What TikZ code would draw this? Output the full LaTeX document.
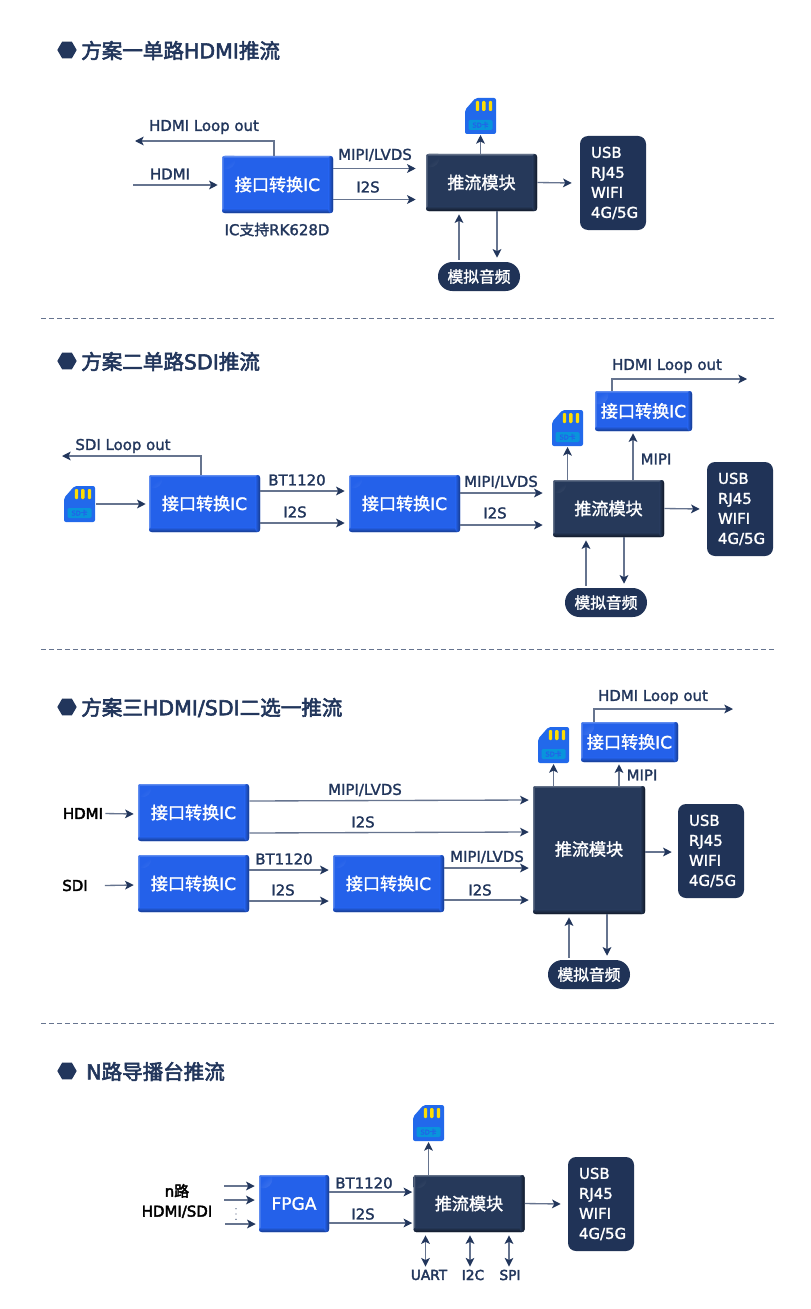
\documentclass[tikz,border=0pt]{standalone}
\usepackage{fontspec}
\setmainfont{DejaVu Sans}[FakeBold=1.6,BoldFont=DejaVu Sans,BoldFeatures={FakeBold=2.8}]
\newfontfamily\cjk{Noto Sans CJK SC}[FakeBold=1.6,BoldFont=Noto Sans CJK SC,BoldFeatures={FakeBold=2.8}]
\usetikzlibrary{calc,arrows.meta,shapes.geometric}

\definecolor{navy}{HTML}{22365C}
\definecolor{linkgrey}{HTML}{66748F}
\definecolor{icblue}{HTML}{2461EA}
\definecolor{modblue}{HTML}{26395A}

\newcommand{\zh}[1]{{\cjk #1}}

\tikzset{
	bevel/.style n args={3}{fill=#1,rounded corners=2pt,inner sep=0pt,text=white,
		path picture={
			\shade[inner color=#2,outer color=#1] ([shift={(3pt,-3pt)}]path picture bounding box.north west) circle (7pt);
			\shade[top color=#2,bottom color=#1,opacity=0.7] (path picture bounding box.north west) rectangle ([yshift=-1.5pt]path picture bounding box.north east);
			\shade[left color=#2,right color=#1,opacity=0.7] (path picture bounding box.north west) rectangle ([xshift=1.5pt]path picture bounding box.south west);
			\shade[top color=#1,bottom color=#3] ([yshift=3.5pt]path picture bounding box.south west) rectangle (path picture bounding box.south east);
			\shade[left color=#1,right color=#3] ([xshift=-3.5pt]path picture bounding box.north east) rectangle (path picture bounding box.south east);
		}},
	icbox/.style={bevel={icblue}{icblue!60!white}{icblue!60!black},minimum width=83.25pt,minimum height=42.75pt,font=\fontsize{12.8}{15}\selectfont},
	smallic/.style={icbox,minimum width=72.75pt,minimum height=30pt},
	modbox/.style={bevel={modblue}{modblue!60!white}{modblue!45!black},minimum width=83.25pt,minimum height=42.75pt,font=\fontsize{12.8}{15}\selectfont},
	outbox/.style={fill=navy!95!black,rounded corners=6pt,text=white,minimum width=49.5pt,minimum height=70.5pt,inner sep=0pt,text width=33pt,align=left,font=\fontsize{11.2}{15}\selectfont},
	pillbox/.style={fill=navy!95!black,rounded corners=10.8pt,text=white,minimum width=61.5pt,minimum height=21.75pt,inner sep=0pt,font=\fontsize{11.8}{14}\selectfont},
	titletxt/.style={anchor=west,inner sep=0pt,text=navy,font=\fontsize{15.4}{18}\selectfont\bfseries},
	titlemark/.style={regular polygon,regular polygon sides=6,fill=navy,minimum size=14.5pt,inner sep=0pt},
	lbl/.style={inner sep=0pt,text=navy,font=\fontsize{11.2}{13}\selectfont},
	blacklbl/.style={inner sep=0pt,text=black,align=center,font=\fontsize{11.2}{15}\selectfont\bfseries},
	buslbl/.style={inner sep=0pt,text=navy,font=\fontsize{10.3}{12}\selectfont\bfseries},
	link/.style={draw=linkgrey,line width=1pt,-{Stealth[length=6.5pt,width=6.5pt,inset=1.6pt,color=navy]}},
	linkboth/.style={link,{Stealth[length=6.5pt,width=6.5pt,inset=1.6pt,color=navy]}-{Stealth[length=6.5pt,width=6.5pt,inset=1.6pt,color=navy]}},
	divider/.style={draw=linkgrey,line width=0.6pt,dash pattern=on 3.4pt off 2.6pt},
	sdcard/.pic={
		\fill[icblue!95!cyan,rounded corners=1.5pt] (-15.5,-6) -- (-5,-18) -- (15.5,-18) -- (15.5,18) -- (-15.5,18) -- cycle;
		\foreach \barx in {-3,3.3,10}
			\fill[yellow!80!orange,rounded corners=0.8pt] (\barx-1.7,-15) rectangle (\barx+1.7,-5);
		\fill[cyan!80!blue,rounded corners=1pt] (-12,4) rectangle (12,14);
		\node[inner sep=0pt,text=icblue,font=\fontsize{5}{6}\selectfont] (-tag) at (0,9) {SD\zh{卡}};
		\coordinate (-s) at (0,19);
		\coordinate (-e) at (16.5,0);
		\coordinate (-w) at (-16.5,0);
	},
}

\begin{document}
\begin{tikzpicture}[x=0.75pt,y=-0.75pt]
	\useasboundingbox (0,0) rectangle (810,1309);
	\fill[white] (0,0) rectangle (810,1309);

	% Dividers
	\foreach \divy [count=\n] in {318,649,1023} {
		\coordinate (dl\n) at (41,\divy);
		\coordinate (dr\n) at (776,\divy);
		\draw[divider] (dl\n) -- (dr\n);
	}

	% Titles
	\node[titlemark] (mark1) at (67,50) {};
	\node[titletxt] (title1) at (81,50.5) {\zh{方案一单路}HDMI\zh{推流}};
	\node[titlemark] (mark2) at (67,361) {};
	\node[titletxt] (title2) at (81,361.5) {\zh{方案二单路}SDI\zh{推流}};
	\node[titlemark] (mark3) at (67,707) {};
	\node[titletxt] (title3) at (81,707.5) {\zh{方案三}HDMI/SDI\zh{二选一推流}};
	\node[titlemark] (mark4) at (67,1071) {};
	\node[titletxt] (title4) at (86,1071.5) {N\zh{路导播台推流}};

	% Scheme one
	\node[icbox] (ic1) at (277.5,184.5) {\zh{接口转换}IC};
	\node[modbox] (mod1) at (481.5,182.5) {\zh{推流模块}};
	\node[outbox] (out1) at (613,183) {USB\\RJ45\\WIFI\\4G/5G};
	\node[pillbox] (pill1) at (479,276.5) {\zh{模拟音频}};
	\pic (sd1) at (480.5,116) {sdcard};
	\coordinate (in1) at (133,185);
	\coordinate (loop1) at (135,141);
	\node[lbl] (hdmi1) at (170,174) {HDMI};
	\node[lbl] (loopl1) at (204,127) {HDMI Loop out};
	\node[lbl] (mipi1) at (375,155) {MIPI/LVDS};
	\node[lbl] (i2s1) at (368,187) {I2S};
	\node[lbl] (note1) at (277,229.5) {IC\zh{支持}RK628D};
	\draw[link] (in1) -- ($(ic1.west)+(-4,0.5)$);
	\draw[link] ($(ic1.north)+(-3.5,0)$) |- (loop1);
	\draw[link] ($(ic1.east)+(0,-16)$) -- ($(mod1.west)+(-10,-14)$);
	\draw[link] ($(ic1.east)+(0,15)$) -- ($(mod1.west)+(-10,17)$);
	\draw[link] (mod1.north -| sd1-s) -- (sd1-s);
	\draw[link] (mod1.east) -- ($(out1.west)+(-8,0)$);
	\draw[link] ($(pill1.north)+(-20,-2)$) -- ($(mod1.south)+(-22.5,3)$);
	\draw[link] ($(mod1.south)+(15.5,0)$) -- ($(pill1.north)+(18,-4)$);

	% Scheme two
	\node[icbox] (ic2a) at (204.5,503.5) {\zh{接口转换}IC};
	\node[icbox] (ic2b) at (404.5,503.5) {\zh{接口转换}IC};
	\node[modbox] (mod2) at (608.5,508.5) {\zh{推流模块}};
	\node[smallic] (ic2c) at (643.5,411) {\zh{接口转换}IC};
	\node[outbox] (out2) at (740,509) {USB\\RJ45\\WIFI\\4G/5G};
	\node[pillbox] (pill2) at (606,602.5) {\zh{模拟音频}};
	\pic (sd2a) at (79.5,504) {sdcard};
	\pic (sd2b) at (567.5,428) {sdcard};
	\coordinate (loop2a) at (62,456);
	\coordinate (loop2b) at (747,379);
	\node[lbl] (loopl2a) at (123,446) {SDI Loop out};
	\node[lbl] (loopl2b) at (667,366) {HDMI Loop out};
	\node[lbl] (bt2) at (297,480) {BT1120};
	\node[lbl] (i2s2a) at (295,512) {I2S};
	\node[lbl] (mipi2) at (501,482) {MIPI/LVDS};
	\node[lbl] (i2s2b) at (495,513) {I2S};
	\node[lbl] (mipi2c) at (656,459) {MIPI};
	\draw[link] (sd2a-e) -- ($(ic2a.west)+(-3,0.5)$);
	\draw[link] ($(ic2a.north)+(-3.5,0)$) |- (loop2a);
	\draw[link] ($(ic2a.east)+(0,-12.5)$) -- ($(ic2b.west)+(-4,-12.5)$);
	\draw[link] ($(ic2a.east)+(0,19.5)$) -- ($(ic2b.west)+(-4,19.5)$);
	\draw[link] ($(ic2b.east)+(0,-10.5)$) -- ($(mod2.west)+(-10,-15.5)$);
	\draw[link] ($(ic2b.east)+(0,21.5)$) -- ($(mod2.west)+(-10,16.5)$);
	\draw[link] (mod2.north -| sd2b-s) -- (sd2b-s);
	\draw[link] (mod2.north -| 633,0) -- ($(ic2c.south -| 633,0)+(0,2)$);
	\draw[link] ($(ic2c.north)+(-31.5,0)$) |- (loop2b);
	\draw[link] (mod2.east) -- ($(out2.west)+(-7,0)$);
	\draw[link] ($(pill2.north)+(-20,-2)$) -- ($(mod2.south)+(-22.5,3)$);
	\draw[link] ($(mod2.south)+(15.5,0)$) -- ($(pill2.north)+(18,-4)$);

	% Scheme three
	\node[icbox] (ic3a) at (193.5,812.5) {\zh{接口转换}IC};
	\node[icbox] (ic3b) at (193.5,883.5) {\zh{接口转换}IC};
	\node[icbox] (ic3c) at (388.5,883.5) {\zh{接口转换}IC};
	\node[modbox,minimum width=84pt,minimum height=96pt] (mod3) at (589,850) {\raisebox{2.5pt}{\zh{推流模块}}};
	\node[smallic] (ic3d) at (629.5,742) {\zh{接口转换}IC};
	\node[outbox] (out3) at (711,851) {USB\\RJ45\\WIFI\\4G/5G};
	\node[pillbox] (pill3) at (589,974.5) {\zh{模拟音频}};
	\pic (sd3) at (553.5,745) {sdcard};
	\coordinate (loop3) at (733,709);
	\node[blacklbl] (hdmi3) at (83,813.5) {HDMI};
	\node[blacklbl] (sdi3) at (75,885.5) {SDI};
	\node[lbl] (loopl3) at (653,697) {HDMI Loop out};
	\node[lbl] (mipi3a) at (365,790) {MIPI/LVDS};
	\node[lbl] (i2s3a) at (363,822) {I2S};
	\node[lbl] (bt3) at (284,859) {BT1120};
	\node[lbl] (i2s3b) at (283,890) {I2S};
	\node[lbl] (mipi3c) at (487,857) {MIPI/LVDS};
	\node[lbl] (i2s3c) at (480,890) {I2S};
	\node[lbl] (mipi3d) at (642,775) {MIPI};
	\draw[link] ($(hdmi3.east)+(2,0)$) -- ($(ic3a.west)+(-4,1.5)$);
	\draw[link] ($(sdi3.east)+(17,0)$) -- ($(ic3b.west)+(-4,1.5)$);
	\draw[link] ($(ic3a.east)+(0,-11.5)$) -- ($(mod3.west)+(-4,-50)$);
	\draw[link] ($(ic3a.east)+(0,20.5)$) -- ($(mod3.west)+(-4,-18)$);
	\draw[link] ($(ic3b.east)+(0,-13.5)$) -- ($(ic3c.west)+(-4,-13.5)$);
	\draw[link] ($(ic3b.east)+(0,17.5)$) -- ($(ic3c.west)+(-4,17.5)$);
	\draw[link] ($(ic3c.east)+(0,-15.5)$) -- ($(mod3.west)+(-4,18)$);
	\draw[link] ($(ic3c.east)+(0,16.5)$) -- ($(mod3.west)+(-4,50)$);
	\draw[link] (mod3.north -| sd3-s) -- (sd3-s);
	\draw[link] (mod3.north -| 619,0) -- ($(ic3d.south -| 619,0)+(0,2)$);
	\draw[link] ($(ic3d.north)+(-35.5,0)$) |- (loop3);
	\draw[link] ($(mod3.east)+(0,2)$) -- ($(out3.west)+(-6,1)$);
	\draw[link] ($(pill3.north)+(-20,-2)$) -- ($(mod3.south)+(-20,3)$);
	\draw[link] ($(mod3.south)+(18,0)$) -- ($(pill3.north)+(18,-4)$);

	% N channel
	\node[icbox,minimum width=52.5pt] (fpga) at (294,1203.5) {FPGA};
	\node[modbox] (mod4) at (469,1203.5) {\zh{推流模块}};
	\node[outbox] (out4) at (601,1204) {USB\\RJ45\\WIFI\\4G/5G};
	\pic (sd4) at (428.5,1123) {sdcard};
	\coordinate (inA) at (224,1186);
	\coordinate (inB) at (224,1200);
	\coordinate (inC) at (225,1224);
	\node[blacklbl] (nin) at (177,1201) {n\zh{路}\\HDMI/SDI};
	\node[inner sep=0pt,text=navy,font=\tiny] (dots) at (236,1210) {$\vdots$};
	\node[lbl] (bt4) at (364,1183) {BT1120};
	\node[lbl] (i2s4) at (363,1214) {I2S};
	\node[buslbl] (uart) at (429,1275) {UART};
	\node[buslbl] (i2c) at (473,1275) {I2C};
	\node[buslbl] (spi) at (510,1275) {SPI};
	\draw[link] (inA) -- ($(fpga.west)+(-4,-17.5)$);
	\draw[link] (inB) -- ($(fpga.west)+(-4,-3.5)$);
	\draw[link] (inC) -- ($(fpga.west)+(-3,20.5)$);
	\draw[link] ($(fpga.east)+(0,-11.5)$) -- ($(mod4.west)+(-1,-11.5)$);
	\draw[link] ($(fpga.east)+(0,19.5)$) -- ($(mod4.west)+(-1,19.5)$);
	\draw[link] (mod4.north -| sd4-s) -- (sd4-s);
	\draw[link] (mod4.east) -- ($(out4.west)+(-7,0)$);
	\draw[linkboth] ($(mod4.south)+(-43.5,3)$) -- ($(uart.north)+(-3.5,-3)$);
	\draw[linkboth] ($(mod4.south)+(1,3)$) -- ($(i2c.north)+(-3,-3)$);
	\draw[linkboth] ($(mod4.south)+(40,3)$) -- ($(spi.north)+(-1,-3)$);
\end{tikzpicture}
\end{document}
